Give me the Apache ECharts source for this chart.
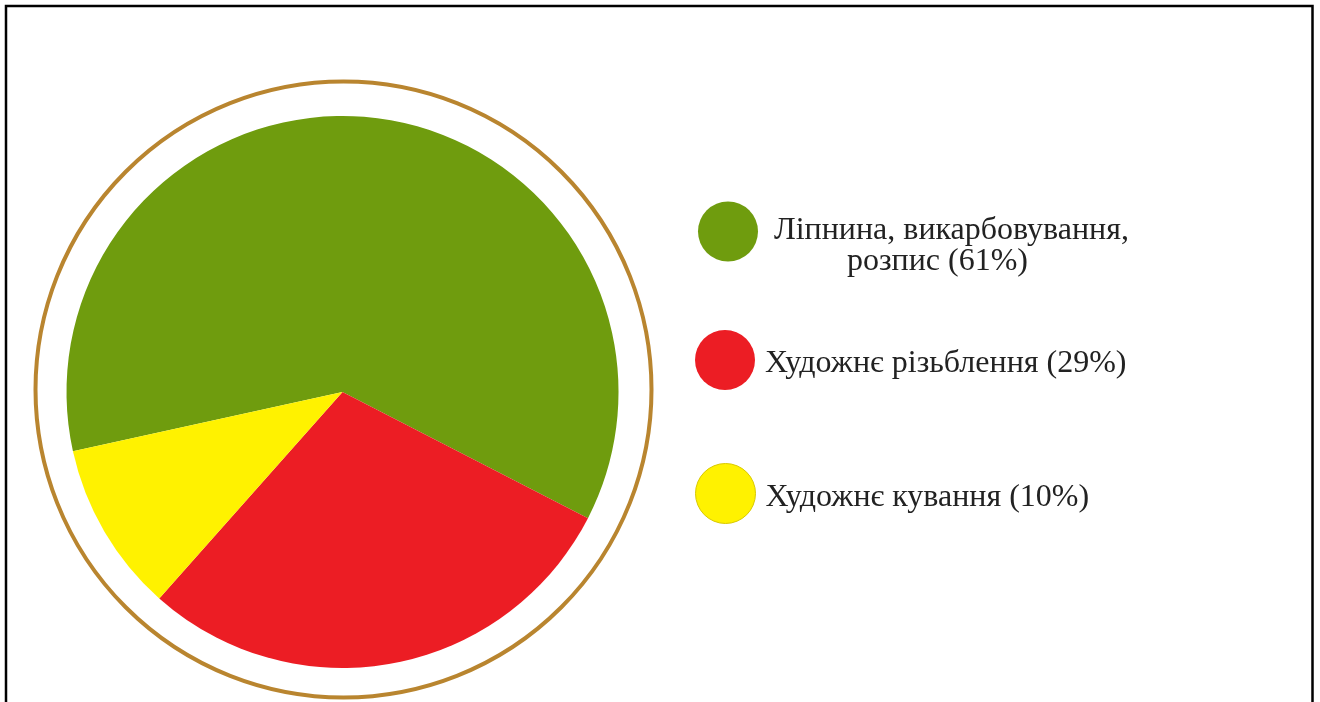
<!DOCTYPE html>
<html>
<head>
<meta charset="utf-8">
<script src="https://cdn.jsdelivr.net/npm/echarts@6/dist/echarts.min.js"></script>
<style>
  html, body { margin: 0; padding: 0; background: #fff; }
  #chart { width: 1320px; height: 702px; }
</style>
</head>
<body>
<div id="chart"></div>
<script>
// data
const categories = ['Ліпнина, викарбовування, розпис', 'Художнє різьблення', 'Художнє кування'];
const shares = [61, 29, 10];
const colors = ['#6f9c0e', '#ec1d24', '#fff200'];
// how each legend label breaks into lines
const labelLines = [['Ліпнина, викарбовування,', 'розпис'], ['Художнє різьблення'], ['Художнє кування']];

let chart = echarts.init(document.getElementById('chart'));

const font = '"Liberation Serif", "Times New Roman", serif';

function legendText(i) {
  let lines = labelLines[i].slice();
  lines[lines.length - 1] += ' (' + shares[i] + '%)';
  if (lines.length === 1) return '{a|' + lines[0] + '}';
  return '{a|' + lines[0] + '}\n{b|' + lines[1] + '}';
}

// one legend block per category, placed by hand
// (the green one's text box pokes above the icon, hence the smaller top)
const legendPos = [
  { left: 698, top: 186, w: 62, h: 60, pad: [29, 0, 0, 10] },
  { left: 695, top: 330, w: 62, h: 60, pad: [8, 0, 0, 4] },
  { left: 695, top: 463, w: 62, h: 60, pad: [8, 0, 0, 4] }
];

let legends = categories.map((name, i) => ({
  left: legendPos[i].left,
  top: legendPos[i].top,
  orient: 'vertical',
  icon: 'circle',
  itemWidth: legendPos[i].w,
  itemHeight: legendPos[i].h,
  selectedMode: false,
  padding: 0,
  data: [name],
  itemStyle: i === 2 ? { borderColor: '#d9c900', borderWidth: 1 } : { borderWidth: 0 },
  formatter: () => legendText(i),
  textStyle: {
    fontFamily: font,
    fontSize: 32,
    color: '#222',
    lineHeight: 31,
    padding: legendPos[i].pad,
    rich: {
      a: { fontFamily: font, fontSize: 32, color: '#222', lineHeight: 31 },
      b: { fontFamily: font, fontSize: 32, color: '#222', lineHeight: 31, align: 'center', padding: [0, 28, 0, 0] }
    }
  }
}));

let option = {
  animation: false,
  backgroundColor: '#fff',
  color: colors,
  legend: legends,
  graphic: [
    {
      type: 'rect',
      shape: { x: 6, y: 6, width: 1306.5, height: 720 },
      style: { fill: 'none', stroke: '#000', lineWidth: 2.5 },
      silent: true
    },
    {
      type: 'circle',
      shape: { cx: 343.5, cy: 389.5, r: 308 },
      style: { fill: 'none', stroke: '#b9852f', lineWidth: 4 },
      silent: true
    }
  ],
  series: [{
    type: 'pie',
    center: [342.5, 392],
    radius: 276,
    startAngle: 192.4,
    clockwise: true,
    label: { show: false },
    labelLine: { show: false },
    emphasis: { disabled: true },
    itemStyle: { borderWidth: 0 },
    data: categories.map((name, i) => ({ name: name, value: shares[i] }))
  }]
};

chart.setOption(option);
</script>
</body>
</html>
